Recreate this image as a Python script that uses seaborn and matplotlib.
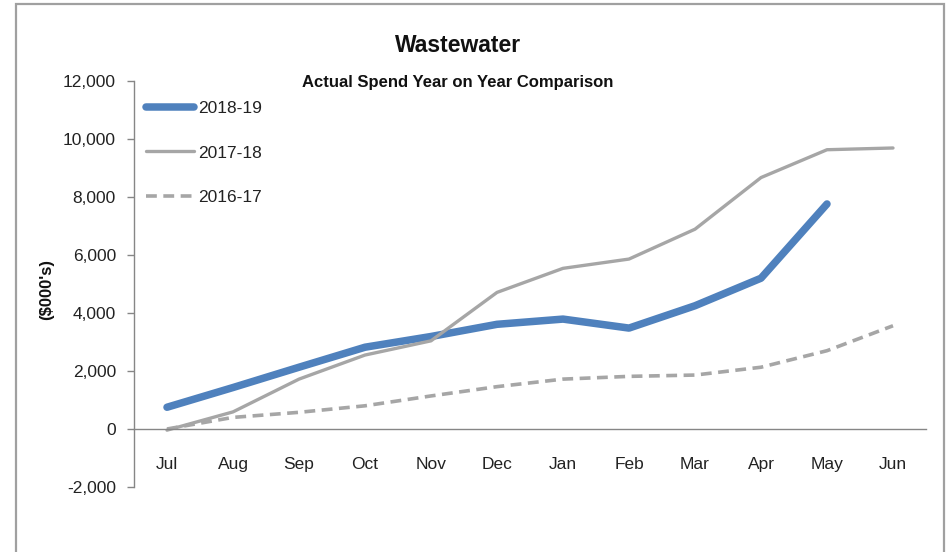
import numpy as np
import pandas as pd
import matplotlib
matplotlib.use('Agg')
import matplotlib.pyplot as plt
import seaborn as sns
from matplotlib.patches import Rectangle
from matplotlib.ticker import FuncFormatter

# chart data ($000's)
months = ['Jul', 'Aug', 'Sep', 'Oct', 'Nov', 'Dec', 'Jan', 'Feb', 'Mar', 'Apr', 'May', 'Jun']
spend_2018_19 = [750, 1430, 2130, 2820, 3190, 3610, 3790, 3480, 4250, 5200, 7760, np.nan]
spend_2017_18 = [-40, 590, 1720, 2550, 3040, 4710, 5540, 5860, 6890, 8670, 9630, 9690]
spend_2016_17 = [0, 400, 575, 800, 1140, 1460, 1720, 1815, 1860, 2130, 2700, 3560]
y_ticks = [-2000, 0, 2000, 4000, 6000, 8000, 10000, 12000]

sns.set_style('white')
plt.rcParams['font.family'] = ['Liberation Sans', 'DejaVu Sans']

df = pd.DataFrame({
    'month': months,
    '2018-19': spend_2018_19,
    '2017-18': spend_2017_18,
    '2016-17': spend_2016_17,
})

W, H = 948, 552
fig = plt.figure(figsize=(W / 100, H / 100), dpi=100)
ax = fig.add_axes([134 / W, 1 - 487 / H, 792 / W, 406 / H])

blue = '#4F81BD'
grey = '#A6A6A6'

sns.lineplot(data=df, x='month', y='2018-19', ax=ax, color=blue, lw=5.4,
             solid_capstyle='round', label='2018-19', sort=False)
sns.lineplot(data=df, x='month', y='2017-18', ax=ax, color=grey, lw=2.4,
             solid_capstyle='round', label='2017-18', sort=False)
sns.lineplot(data=df, x='month', y='2016-17', ax=ax, color=grey, lw=2.6,
             label='2016-17', sort=False)
ax.lines[2].set_dashes((3, 1.8))

ax.set_xlim(-0.5, len(months) - 0.5)
ax.set_ylim(-2000, 12000)
ax.set_yticks(y_ticks)
ax.yaxis.set_major_formatter(FuncFormatter(lambda v, p: f'{int(v):,}'))
ax.set_xticks(range(len(months)))
ax.set_xticklabels(months)
ax.set_xticks(np.arange(len(months)) + 0.5, minor=True)

axis_col = '#868686'
for s in ['top', 'right']:
    ax.spines[s].set_visible(False)
ax.spines['bottom'].set_position(('data', 0))
ax.spines['bottom'].set_color(axis_col)
ax.spines['left'].set_color(axis_col)
ax.spines['bottom'].set_linewidth(1.0)
ax.spines['left'].set_linewidth(1.0)

ax.tick_params(axis='x', which='major', length=0, pad=20, labelsize=12.5, labelcolor='#222222')
ax.tick_params(axis='x', which='minor', length=5, width=1, color=axis_col, direction='out')
ax.tick_params(axis='y', length=5, width=1, color=axis_col, direction='out', pad=8,
               labelsize=12.5, labelcolor='#222222', left=True)
ax.set_xlabel('')
ax.set_ylabel('')

leg = ax.legend(loc='upper left', bbox_to_anchor=(0.0, 0.98), frameon=False,
                fontsize=12.5, handlelength=2.75, handletextpad=0.25,
                labelspacing=1.67, borderaxespad=0.3)
for t in leg.get_texts():
    t.set_color('#222222')

fig.text(458 / W, 1 - 46 / H, 'Wastewater', ha='center', va='center',
         fontsize=16.5, fontweight='bold', color='#111111')
fig.text(458 / W, 1 - 83 / H, 'Actual Spend Year on Year Comparison', ha='center',
         va='center', fontsize=12, fontweight='bold', color='#111111')
fig.text(47 / W, 1 - 290 / H, "($000's)", ha='center', va='center', rotation=90,
         fontsize=12, fontweight='bold', color='#111111')

# chart area border (Excel-style)
fig.patches.append(Rectangle((16 / W, -0.2), (944 - 16) / W, 1.2 - 4 / H,
                             transform=fig.transFigure, fill=False,
                             edgecolor='#A0A0A0', lw=1.6))

fig.savefig('out.png', dpi=100)
